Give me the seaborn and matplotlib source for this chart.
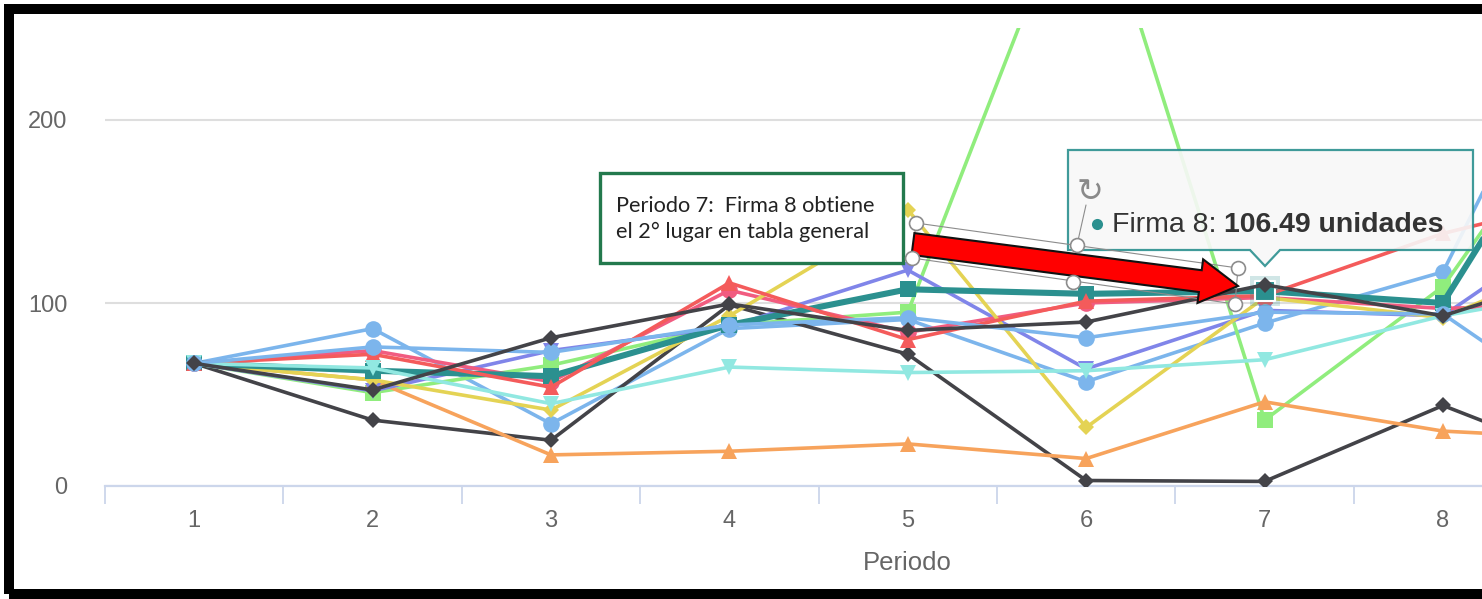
import numpy as np
import pandas as pd
import matplotlib
matplotlib.use("Agg")
import matplotlib.pyplot as plt
import seaborn as sns
from matplotlib.patches import Rectangle, Polygon
from matplotlib.lines import Line2D

# ---------------- data ----------------
periodos = [1, 2, 3, 4, 5, 6, 7, 8, 9]

firma_1 = [67, 86, 34, 86, 91, 57, 89, 117, 312]
firma_2 = [67, 36, 25, 99, 72, 3, 2.5, 44, 6]
firma_3 = [67, 51, 66, 88, 95, 345, 36, 109, 247]
firma_4 = [67, 58, 17, 19, 23, 15, 46, 30, 25]
firma_5 = [67, 52, 74, 87, 118, 64, 96, 93, 160]
firma_6 = [67, 74, 57, 107, 84, 100, 103, 97, 100]
firma_7 = [67, 58, 41.5, 93, 151, 32, 103, 92, 133]
firma_8 = [67, 63, 60, 88, 107.5, 105, 106.49, 100, 256]
firma_9 = [67, 72, 54, 111, 80, 101, 104, 138, 162]
firma_10 = [67, 64.5, 45, 65, 62, 63, 69, 93, 110]
firma_11 = [67, 76, 73, 88, 92, 81, 95, 94, 27]
firma_12 = [67, 52.5, 81, 99.5, 85, 89.6, 110, 93, 124]

firmas = [f"Firma {i}" for i in range(1, 13)]
valores = [firma_1, firma_2, firma_3, firma_4, firma_5, firma_6,
           firma_7, firma_8, firma_9, firma_10, firma_11, firma_12]

y_ticks = [0, 100, 200]
x_title = "Periodo"
destacada = "Firma 8"
periodo_destacado = 7
nota = "Periodo 7:  Firma 8 obtiene\nel 2\u00b0 lugar en tabla general"
unidad = "unidades"

df = pd.DataFrame(
    [(f, p, v) for f, vals in zip(firmas, valores) for p, v in zip(periodos, vals)],
    columns=["Firma", "Periodo", "Unidades"],
)

# Highcharts-like colour / symbol cycle
colores = ["#7cb5ec", "#434348", "#90ed7d", "#f7a35c", "#8085e9",
           "#f15c80", "#e4d354", "#2b908f", "#f45b5b", "#91e8e1"]
simbolos = ["o", "D", "s", "^", "v"]
tam = {"o": 12, "D": 8.5, "s": 11, "^": 12, "v": 12}

# ---------------- figure ----------------
sns.set_style("white")
plt.rcParams["font.family"] = ["Liberation Sans", "DejaVu Sans"]

W, H = 1482, 599
fig = plt.figure(figsize=(W / 100, H / 100), dpi=100)
fig.patch.set_facecolor("white")

px_per_period = 178.4
ax = fig.add_axes([105 / W, 1 - 486 / H, (W - 105) / W, (486 - 28) / H])
ax.set_facecolor("white")

for i, firma in enumerate(firmas):
    sub = df[df["Firma"] == firma]
    color = colores[i % len(colores)]
    marker = simbolos[i % len(simbolos)]
    lw = 4.4 if firma == destacada else 2.6
    sns.lineplot(data=sub, x="Periodo", y="Unidades", ax=ax, color=color,
                 marker=marker, markersize=tam[marker], markeredgewidth=0,
                 linewidth=lw, legend=False, zorder=3 + i * 0.1)

# hovered point of the highlighted series
sub8 = df[(df["Firma"] == destacada) & (df["Periodo"] == periodo_destacado)]
sns.scatterplot(data=sub8, x="Periodo", y="Unidades", ax=ax, marker="s",
                s=480, color="#2b908f", alpha=0.22, linewidth=0, legend=False, zorder=4)
sns.scatterplot(data=sub8, x="Periodo", y="Unidades", ax=ax, marker="s",
                s=200, color="#2b908f", edgecolor="white", linewidth=1.5,
                legend=False, zorder=4.05)

# axes styling
for s in ["top", "right", "left"]:
    ax.spines[s].set_visible(False)
ax.spines["bottom"].set_color("#ccd6eb")
ax.spines["bottom"].set_linewidth(1.6)

ax.set_xticks([p - 0.5 for p in periodos] + [periodos[-1] + 0.5])
ax.set_xticklabels([])
ax.set_xticks(periodos, minor=True)
ax.set_xticklabels([str(p) for p in periodos], minor=True)
ax.tick_params(axis="x", which="major", length=13, width=1.3, color="#ccd6eb",
               direction="out", bottom=True)
ax.tick_params(axis="x", which="minor", length=0, pad=17, labelsize=17,
               labelcolor="#666666")

ax.set_yticks(y_ticks)
ax.set_yticklabels([str(v) for v in y_ticks])
ax.tick_params(axis="y", length=0, pad=27, labelsize=17, labelcolor="#666666")
ax.yaxis.grid(True, color="#dedede", linewidth=1.5)
ax.xaxis.grid(False)
ax.set_axisbelow(True)

# view limits (set after the ticks so they are not widened)
x_max = 0.5 + (W - 105) / px_per_period
ax.set_xlim(0.5, x_max)
ax.set_ylim(0, (486 - 28) / 1.83)

ax.set_xlabel(x_title, fontsize=18.5, color="#666666")
ax.set_ylabel("")
ax.xaxis.set_label_coords((5 - 0.5) / (x_max - 0.5), -0.168)
ax.xaxis.label.set_va("center")

# ---------------- overlays (pixel coordinates, origin top-left) ----------------
def P(x, y):
    return (x / W, 1 - y / H)

tf = fig.transFigure


def dots(points, **kw):
    xs = [P(*p)[0] for p in points]
    ys = [P(*p)[1] for p in points]
    fig.lines.append(Line2D(xs, ys, transform=tf, linestyle="none", **kw))


# note box
fig.patches.append(Rectangle(P(600, 263), 303 / W, 90 / H, transform=tf,
                             facecolor="white", edgecolor="#23794d",
                             linewidth=2.4, zorder=10))
fig.text(*P(616, 219), nota, transform=tf, fontsize=15.6, family=["Lato", "DejaVu Sans"],
         color="#222222", ha="left", va="center", linespacing=1.38, zorder=11)

# selection frame around the arrow
frame = [(916, 223), (1238, 268), (1235, 304), (912, 258)]
fig.patches.append(Polygon([P(*p) for p in frame], closed=True, transform=tf,
                           facecolor="none", edgecolor="#8c8c8c", linewidth=0.8, zorder=12))
fig.lines.append(Line2D([P(1077, 245)[0], P(1086, 205)[0]],
                        [P(1077, 245)[1], P(1086, 205)[1]],
                        transform=tf, color="#8c8c8c", linewidth=0.8, zorder=12))

# red block arrow
tail = np.array([913.0, 244.0])
tip = np.array([1238.0, 286.0])
d = tip - tail
L = np.hypot(*d)
u = d / L
n = np.array([-u[1], u[0]])
hw_shaft, hw_head, head_len = 11, 22, 38
base = tail + (L - head_len) * u
pts = [tail - hw_shaft * n, base - hw_shaft * n, base - hw_head * n, tip,
       base + hw_head * n, base + hw_shaft * n, tail + hw_shaft * n]
fig.patches.append(Polygon([P(*p) for p in pts], closed=True, transform=tf,
                           facecolor="#ff0000", edgecolor="#111111",
                           linewidth=1.5, zorder=13))

handles = [(916, 223), (912, 258), (1077, 245), (1073, 282), (1238, 268), (1235, 304)]
dots(handles, marker="o", markersize=10, markerfacecolor="white",
     markeredgecolor="#8c8c8c", markeredgewidth=1.2, zorder=14)
fig.text(*P(1090, 192), "\u21bb", transform=tf, fontsize=23, color="#8a8a8a",
         ha="center", va="center", family="DejaVu Sans", zorder=14)

# tooltip
tip_box = [(1068, 150), (1473, 150), (1473, 250), (1280, 250), (1265, 266),
           (1250, 250), (1068, 250)]
fig.patches.append(Polygon([P(*p) for p in tip_box], closed=True, transform=tf,
                           facecolor="#f8f8f8", alpha=0.9, edgecolor="#2b908f",
                           linewidth=1.6, zorder=9))
dots([(1097, 224)], marker="o", markersize=8, markerfacecolor="#2b908f",
     markeredgewidth=0, zorder=15)
valor = df[(df["Firma"] == destacada) & (df["Periodo"] == periodo_destacado)]["Unidades"].iloc[0]
t1 = fig.text(*P(1112, 232), f"{destacada}: ", transform=tf, fontsize=20.5,
              color="#333333", ha="left", va="baseline", zorder=15)
fig.canvas.draw()
bb = t1.get_window_extent(renderer=fig.canvas.get_renderer())
fig.text(bb.x1 / W, 1 - 232 / H, f"{valor:.2f} {unidad}", transform=tf, fontsize=20.5,
         fontweight="bold", color="#333333", ha="left", va="baseline", zorder=15)

# outer black frame
fig.patches.append(Rectangle(P(8.5, 594), (W + 40) / W, (594 - 9) / H, transform=tf,
                             facecolor="none", edgecolor="black", linewidth=7.2,
                             zorder=20))

fig.savefig("out.png", dpi=100, facecolor="white")
